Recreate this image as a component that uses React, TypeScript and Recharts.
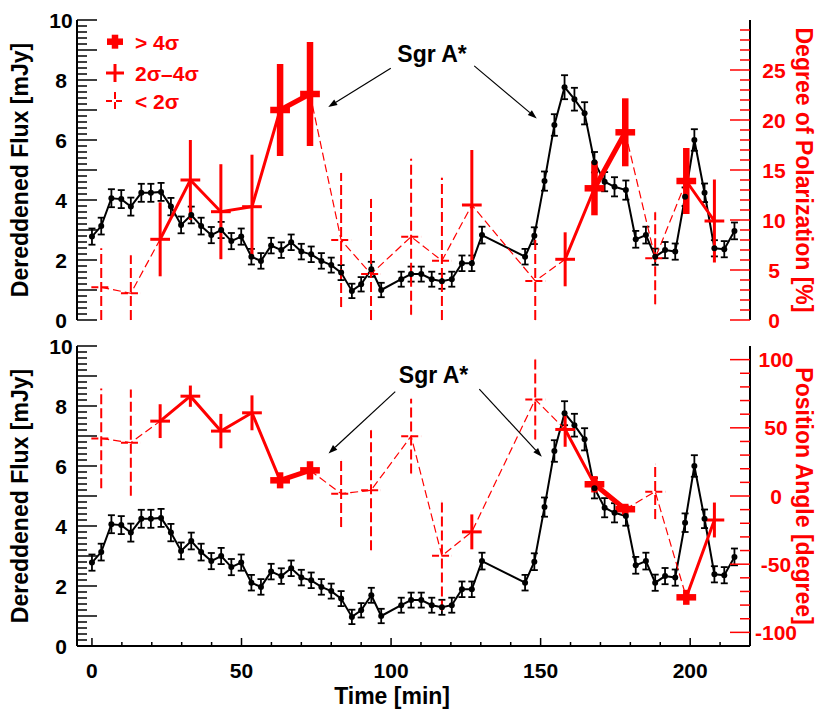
import React from 'react';
import { ComposedChart, Line, Scatter, XAxis, YAxis, ErrorBar, ReferenceLine, ReferenceDot, Legend } from 'recharts';

const FONT = '"Liberation Sans", Arial, Helvetica, sans-serif';
const RED = '#ff0000';

// black: dereddened flux [mJy] vs time [min]
const FLUX_T = [0, 3.1, 6.5, 9.8, 13.0, 16.5, 19.7, 23.1, 26.4, 29.8, 33.2, 36.5, 39.9, 43.2, 46.6, 49.9, 53.3, 56.5, 59.9, 63.3, 66.6, 70.0, 73.3, 76.7, 80.0, 83.3, 86.9, 90.0, 93.4, 96.7, 103.4, 106.7, 110.1, 113.6, 117.0, 120.3, 123.7, 127.0, 130.4, 144.8, 147.9, 151.3, 154.6, 158.0, 161.3, 164.7, 168.0, 171.4, 174.7, 178.5, 181.8, 185.2, 188.3, 191.6, 195.0, 198.3, 201.4, 204.8, 208.1, 211.4, 214.8];
const FLUX = [2.78, 3.13, 4.06, 4.03, 3.78, 4.24, 4.24, 4.27, 3.78, 3.17, 3.5, 3.13, 2.83, 3.0, 2.63, 2.78, 2.11, 1.97, 2.48, 2.33, 2.59, 2.28, 2.19, 1.97, 1.83, 1.58, 0.97, 1.19, 1.69, 1.0, 1.36, 1.53, 1.53, 1.36, 1.29, 1.36, 1.89, 1.89, 2.83, 2.11, 2.81, 4.63, 6.5, 7.76, 7.36, 6.89, 5.26, 4.61, 4.44, 4.33, 2.69, 2.83, 2.11, 2.33, 2.28, 4.11, 6.0, 4.24, 2.39, 2.36, 2.97];
const FLUX_ERR = [0.27, 0.28, 0.3, 0.3, 0.3, 0.3, 0.3, 0.3, 0.29, 0.28, 0.28, 0.28, 0.27, 0.27, 0.27, 0.27, 0.26, 0.26, 0.26, 0.26, 0.26, 0.26, 0.26, 0.26, 0.25, 0.25, 0.24, 0.24, 0.25, 0.24, 0.25, 0.25, 0.25, 0.25, 0.25, 0.25, 0.26, 0.26, 0.28, 0.26, 0.28, 0.32, 0.36, 0.4, 0.38, 0.37, 0.34, 0.32, 0.32, 0.32, 0.28, 0.28, 0.27, 0.27, 0.27, 0.31, 0.36, 0.31, 0.27, 0.27, 0.28];

// red: polarimetry bins
const POL_T = [3.1, 13.0, 22.8, 32.9, 43.1, 53.5, 62.9, 72.9, 83.3, 93.3, 106.7, 117.0, 127.0, 148.2, 158.2, 168.0, 178.3, 188.3, 198.7, 208.1];
const BIN_HALF = 3.3;
const POL = [3.27, 2.67, 8.07, 14.0, 10.83, 11.33, 21.0, 22.6, 8.0, 4.6, 8.33, 5.93, 11.5, 3.9, 6.07, 13.17, 18.77, 6.17, 13.9, 9.9];
const POL_ERR = [3.9, 3.8, 3.7, 4.0, 4.75, 5.2, 4.6, 5.2, 6.7, 7.5, 7.8, 8.3, 5.5, 4.1, 2.7, 2.7, 3.4, 4.6, 3.3, 4.15];
const PA = [42.2, 39.1, 54.9, 73.2, 47.6, 61.0, 11.5, 18.8, 1.7, 4.2, 43.9, -43.9, -26.3, 70.8, 48.8, 8.6, -9.7, 3.2, -74.3, -17.6];
const PA_ERR = [36.6, 39, 12.4, 7.8, 12.6, 12.8, 5.9, 6.7, 24.4, 44, 27.4, 40, 12.8, 29.3, 12.7, 6, 4, 20, 5.5, 12.8];
// significance class: 0 = < 2σ, 1 = 2σ–4σ, 2 = > 4σ
const SIG = [0, 0, 1, 1, 1, 1, 2, 2, 0, 0, 0, 0, 1, 0, 1, 2, 2, 0, 2, 1];

// axes
const X_DOMAIN = [-5, 220];
const X_TICKS = [0, 10, 20, 30, 40, 50, 60, 70, 80, 90, 100, 110, 120, 130, 140, 150, 160, 170, 180, 190, 200, 210];
const X_LABELS = [0, 50, 100, 150, 200];
const FLUX_TICKS = Array.from({ length: 51 }, (_, i) => Math.round(i * 2) / 10);
const FLUX_MAJOR = [0, 1, 2, 3, 4, 5, 6, 7, 8, 9, 10];
const FLUX_LABELS = [0, 2, 4, 6, 8, 10];
const POL_TICKS = Array.from({ length: 30 }, (_, i) => i);
const POL_LABELS = [0, 5, 10, 15, 20, 25];
const PA_TICKS = Array.from({ length: 21 }, (_, i) => -100 + i * 10);
const PA_LABELS = [-100, -50, 0, 50, 100];

const STYLE = [
  { label: '< 2σ', bar: 2, dash: '10 4', hdash: '7 3', line: 1.2, lineDash: '8 4' },
  { label: '2σ–4σ', bar: 3, dash: undefined, hdash: undefined, line: 3, lineDash: undefined },
  { label: '> 4σ', bar: 6.5, dash: undefined, hdash: undefined, line: 5, lineDash: undefined },
];

// annotations (data coordinates, flux axis)
const SGR_TOP = { t: 113.7, f: 8.61 };
const ARROWS_TOP = [
  [{ x: 99.9, y: 8.39 }, { x: 79.0, y: 7.1 }],
  [{ x: 127.8, y: 8.47 }, { x: 148.7, y: 6.72 }],
];
const SGR_BOT = { t: 114.2, f: 8.76 };
const ARROWS_BOT = [
  [{ x: 101.4, y: 8.48 }, { x: 79.1, y: 6.42 }],
  [{ x: 129.5, y: 8.56 }, { x: 150.4, y: 6.31 }],
];

const fluxRows = FLUX_T.map((t, i) => ({ t, v: FLUX[i], e: FLUX_ERR[i] }));

function redRows(vals: number[], errs: number[], floor: number) {
  return POL_T.map((t, i) => ({
    t,
    v: vals[i],
    ey: [Math.min(errs[i], vals[i] - floor), errs[i]],
    ex: BIN_HALF,
    sig: SIG[i],
  }));
}

// a segment takes the weaker class of its two ends
const segStyle = (i: number) => Math.min(SIG[i], SIG[i + 1]);
function segmentRows(vals: number[], s: number) {
  return POL_T.map((t, i) => {
    const on = (i > 0 && segStyle(i - 1) === s) || (i < POL_T.length - 1 && segStyle(i) === s);
    return { t, v: on ? vals[i] : null };
  });
}

const near = (list: number[], v: number) => list.some((m) => Math.abs(m - v) < 1e-6);

function XTick(props: any) {
  const { x, y, payload, dir, majorLen, minorLen, labels } = props;
  const v = payload.value;
  const len = near(X_LABELS, v) ? majorLen : minorLen;
  return (
    <g>
      <line x1={x} y1={y} x2={x} y2={y + dir * len} stroke="#000" strokeWidth={1.5} />
      {labels && near(labels, v) && (
        <text x={x} y={y + 32} textAnchor="middle" fontFamily={FONT} fontWeight={700} fontSize={21} fill="#000">
          {v}
        </text>
      )}
    </g>
  );
}

function YTick(props: any) {
  const { x, y, payload, side, majors, labels, color, labelDx } = props;
  const v = payload.value;
  const dir = side === 'left' ? 1 : -1;
  const len = near(majors, v) ? 20 : 10;
  return (
    <g>
      <line x1={x} y1={y} x2={x + dir * len} y2={y} stroke={color} strokeWidth={1.5} />
      {near(labels, v) && (
        <text x={x - dir * labelDx} y={y + 7.5} textAnchor="middle" fontFamily={FONT} fontWeight={700} fontSize={21} fill={color}>
          {v}
        </text>
      )}
    </g>
  );
}

function ArrowShape(props: any) {
  const { x1, y1, x2, y2 } = props;
  const a = Math.atan2(y2 - y1, x2 - x1);
  const L = 9;
  const W = 3.2;
  const bx = x2 - L * Math.cos(a);
  const by = y2 - L * Math.sin(a);
  const pts = `${x2},${y2} ${bx + W * Math.sin(a)},${by - W * Math.cos(a)} ${bx - W * Math.sin(a)},${by + W * Math.cos(a)}`;
  return (
    <g>
      <line x1={x1} y1={y1} x2={bx} y2={by} stroke="#000" strokeWidth={1.2} />
      <polygon points={pts} fill="#000" />
    </g>
  );
}

function SigLegend() {
  const rows = [2, 1, 0];
  return (
    <svg width={170} height={95} style={{ overflow: 'visible' }}>
      {rows.map((s, k) => {
        const cy = [16.7, 48, 76][k];
        const st = STYLE[s];
        const h = s === 2 ? 8 : 9;
        const vv = s === 2 ? 7 : 9;
        return (
          <g key={s}>
            <line x1={20 - h} y1={cy} x2={20 + h} y2={cy} stroke={RED} strokeWidth={st.bar} strokeDasharray={s === 0 ? '6 4' : undefined} />
            <line x1={20} y1={cy - vv} x2={20} y2={cy + vv} stroke={RED} strokeWidth={st.bar} strokeDasharray={s === 0 ? '7 3' : undefined} />
            <text x={40} y={cy + 8} fontFamily={FONT} fontWeight={700} fontSize={21} fill={RED}>
              {st.label}
            </text>
          </g>
        );
      })}
    </svg>
  );
}

type RightAxis = {
  domain: number[];
  ticks: number[];
  majors: number[];
  labels: number[];
  title: string;
  labelDx: number;
};

type PanelProps = {
  height: number;
  margin: { top: number; right: number; bottom: number; left: number };
  xHeight: number;
  showX: boolean;
  right: RightAxis;
  vals: number[];
  errs: number[];
  sgr: { t: number; f: number };
  arrows: { x: number; y: number }[][];
  legend: boolean;
};

function Panel(p: PanelProps) {
  const red = redRows(p.vals, p.errs, p.right.domain[0]);
  const frame = { stroke: '#000', strokeWidth: 2 };
  return (
    <ComposedChart width={830} height={p.height} margin={p.margin}>
      <XAxis
        xAxisId="top"
        orientation="top"
        type="number"
        dataKey="t"
        domain={X_DOMAIN}
        allowDataOverflow
        ticks={X_TICKS}
        interval={0}
        height={0}
        tickSize={0}
        tickMargin={0}
        tickLine={false}
        axisLine={frame}
        tick={(t: any) => <XTick {...t} dir={1} majorLen={5} minorLen={5} />}
      />
      <XAxis
        type="number"
        dataKey="t"
        domain={X_DOMAIN}
        allowDataOverflow
        ticks={X_TICKS}
        interval={0}
        height={p.xHeight}
        tickSize={0}
        tickMargin={0}
        tickLine={false}
        axisLine={frame}
        tick={(t: any) => <XTick {...t} dir={-1} majorLen={8} minorLen={4} labels={p.showX ? X_LABELS : undefined} />}
        label={
          p.showX
            ? (lp: any) => (
                <text x={lp.viewBox.x + 373} y={lp.viewBox.y + 58} textAnchor="end" fontFamily={FONT} fontWeight={700} fontSize={23} fill="#000">
                  Time [min]
                </text>
              )
            : undefined
        }
      />
      <YAxis
        yAxisId="flux"
        type="number"
        domain={[0, 10]}
        allowDataOverflow
        ticks={FLUX_TICKS}
        interval={0}
        width={77}
        tickSize={0}
        tickMargin={0}
        tickLine={false}
        axisLine={frame}
        tick={(t: any) => <YTick {...t} side="left" majors={FLUX_MAJOR} labels={FLUX_LABELS} color="#000" labelDx={16} />}
        label={(lp: any) => {
          const cx = lp.viewBox.x + 28;
          const cy = lp.viewBox.y + lp.viewBox.height / 2;
          return (
            <text x={cx} y={cy} transform={`rotate(-90 ${cx} ${cy})`} textAnchor="middle" fontFamily={FONT} fontWeight={700} fontSize={23} fill="#000">
              Dereddened Flux [mJy]
            </text>
          );
        }}
      />
      <YAxis
        yAxisId="red"
        orientation="right"
        type="number"
        domain={p.right.domain}
        allowDataOverflow
        ticks={p.right.ticks}
        interval={0}
        width={80}
        tickSize={0}
        tickMargin={0}
        tickLine={false}
        axisLine={frame}
        tick={(t: any) => <YTick {...t} side="right" majors={p.right.majors} labels={p.right.labels} color={RED} labelDx={p.right.labelDx} />}
        label={(lp: any) => {
          const cx = lp.viewBox.x + 46;
          const cy = lp.viewBox.y + lp.viewBox.height / 2;
          return (
            <text x={cx} y={cy} transform={`rotate(90 ${cx} ${cy})`} textAnchor="middle" fontFamily={FONT} fontWeight={700} fontSize={23} fill={RED}>
              {p.right.title}
            </text>
          );
        }}
      />

      <Line
        data={fluxRows}
        dataKey="v"
        yAxisId="flux"
        type="linear"
        stroke="#000"
        strokeWidth={2}
        dot={{ r: 3, fill: '#000', stroke: '#000', strokeWidth: 0 }}
        activeDot={false}
        isAnimationActive={false}
      >
        <ErrorBar dataKey="e" direction="y" width={3.5} stroke="#000" strokeWidth={1.8} isAnimationActive={false} />
      </Line>

      {[0, 1, 2].map((s) => (
        <Line
          key={'seg' + s}
          data={segmentRows(p.vals, s)}
          dataKey="v"
          yAxisId="red"
          type="linear"
          stroke={RED}
          strokeWidth={STYLE[s].line}
          strokeDasharray={STYLE[s].lineDash}
          dot={false}
          activeDot={false}
          connectNulls={false}
          isAnimationActive={false}
        />
      ))}

      {[0, 1, 2].map((s) => (
        <Scatter
          key={'pt' + s}
          data={red.filter((r) => r.sig === s)}
          dataKey="v"
          yAxisId="red"
          shape={() => <g />}
          isAnimationActive={false}
        >
          <ErrorBar dataKey="ey" direction="y" width={0} stroke={RED} strokeWidth={STYLE[s].bar} strokeDasharray={STYLE[s].dash} isAnimationActive={false} />
          <ErrorBar dataKey="ex" direction="x" width={0} stroke={RED} strokeWidth={STYLE[s].bar} strokeDasharray={STYLE[s].hdash} isAnimationActive={false} />
        </Scatter>
      ))}

      {p.arrows.map((seg, i) => (
        <ReferenceLine key={'arr' + i} yAxisId="flux" segment={seg} ifOverflow="visible" shape={(sp: any) => <ArrowShape {...sp} />} />
      ))}
      <ReferenceDot
        yAxisId="flux"
        x={p.sgr.t}
        y={p.sgr.f}
        r={1}
        ifOverflow="visible"
        shape={(d: any) => (
          <text x={d.cx} y={d.cy} textAnchor="middle" fontFamily={FONT} fontWeight={700} fontSize={23} fill="#000">
            Sgr A*
          </text>
        )}
      />

      {p.legend && (
        <Legend
          layout="vertical"
          align="center"
          verticalAlign="middle"
          wrapperStyle={{ left: 95, top: 25, width: 170, height: 95 }}
          content={() => <SigLegend />}
        />
      )}
    </ComposedChart>
  );
}

export default function App() {
  return (
    <div style={{ position: 'absolute', left: 0, top: 0, width: 830, height: 714, background: '#fff' }}>
      <Panel
        height={333}
        margin={{ top: 20, right: 0, bottom: 13, left: 0 }}
        xHeight={0}
        showX={false}
        right={{ domain: [0, 30], ticks: POL_TICKS, majors: POL_LABELS, labels: POL_LABELS, title: 'Degree of Polarization [%]', labelDx: 24 }}
        vals={POL}
        errs={POL_ERR}
        sgr={SGR_TOP}
        arrows={ARROWS_TOP}
        legend
      />
      <Panel
        height={381}
        margin={{ top: 13, right: 0, bottom: 0, left: 0 }}
        xHeight={68}
        showX
        right={{ domain: [-110, 110], ticks: PA_TICKS, majors: PA_LABELS, labels: PA_LABELS, title: 'Position Angle [degree]', labelDx: 26 }}
        vals={PA}
        errs={PA_ERR}
        sgr={SGR_BOT}
        arrows={ARROWS_BOT}
        legend={false}
      />
    </div>
  );
}
